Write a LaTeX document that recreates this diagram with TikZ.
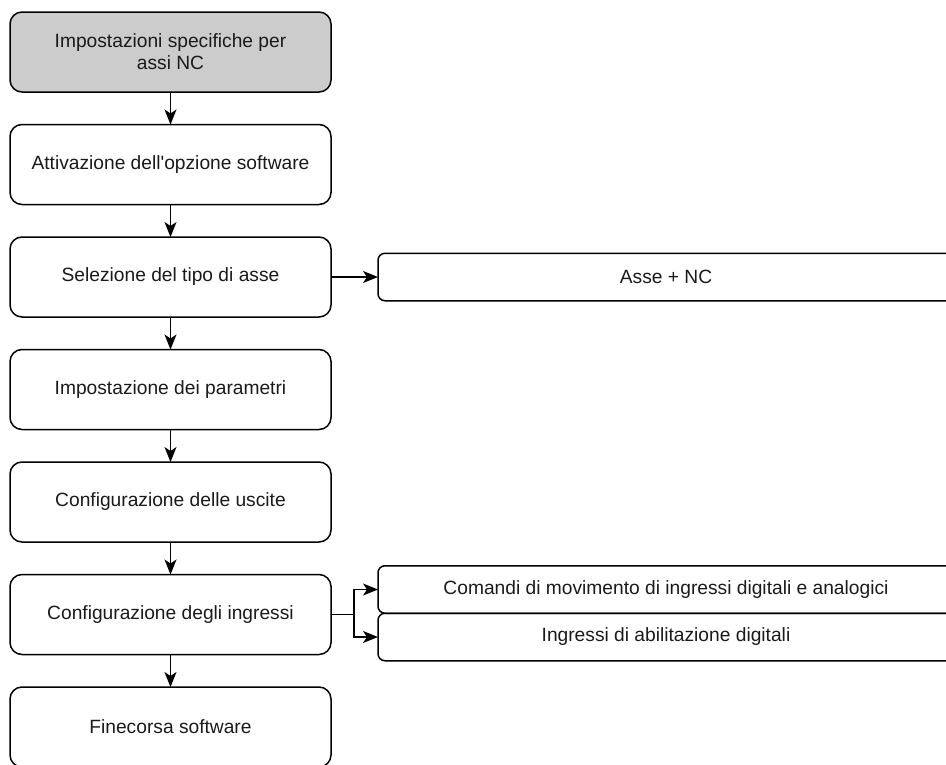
\documentclass[tikz,border=0pt]{standalone}
\usepackage{fontspec}
\setmainfont{Liberation Sans}
\usetikzlibrary{arrows.meta,positioning}
\definecolor{boxgrey}{HTML}{CCCCCC}
\definecolor{textdark}{HTML}{1A1A1A}

\begin{document}
\begin{tikzpicture}[x=1pt, y=1pt, node distance=32.5pt,
    main/.style = {draw, rounded corners=12pt, line width=1.5pt, outer sep=0pt, minimum width=321pt, minimum height=80pt,
        inner sep=0pt, align=center, text=textdark, font=\fontsize{19.2}{22}\selectfont},
    side/.style = {draw, rounded corners=7pt, line width=1.5pt, outer sep=0pt, minimum width=576pt, minimum height=47.5pt,
        inner sep=0pt, text=textdark, font=\fontsize{19.2}{22}\selectfont},
    flow/.style = {line width=1.5pt, -{Stealth[length=15pt, width=12pt, inset=4pt]}}]
    \clip (0,0) rectangle (946,-764);

    \node[main, fill=boxgrey] (impNC) at (170.5,-52) {Impostazioni specifiche per\\assi NC};
    \node[main] (attiv) [below=of impNC] {Attivazione dell\textquotesingle opzione software};
    \node[main] (selAsse) [below=of attiv] {Selezione del tipo di asse};
    \node[main] (param) [below=of selAsse] {Impostazione dei parametri};
    \node[main] (uscite) [below=of param] {Configurazione delle uscite};
    \node[main] (ingr) [below=of uscite] {Configurazione degli ingressi};
    \node[main] (fineC) [below=of ingr] {Finecorsa software};

    \path[flow] (impNC) edge (attiv);
    \path[flow] (attiv) edge (selAsse);
    \path[flow] (selAsse) edge (param);
    \path[flow] (param) edge (uscite);
    \path[flow] (uscite) edge (ingr);
    \path[flow] (ingr) edge (fineC);

    \node[side] (asseNC) [right=47pt of selAsse] {Asse + NC};
    \path[flow] (selAsse) edge (asseNC);

    \node[side] (cmdMov) [right=47pt of ingr, yshift=25pt] {Comandi di movimento di ingressi digitali e analogici};
    \node[side] (abil) [below=0pt of cmdMov] {Ingressi di abilitazione digitali};

    \coordinate[right=23pt of ingr.east] (fork);
    \draw[line width=1.5pt] (ingr.east) -- (fork);
    \draw[flow] (fork) |- (cmdMov.west);
    \draw[flow] (fork) |- (abil.west);
\end{tikzpicture}
\end{document}
